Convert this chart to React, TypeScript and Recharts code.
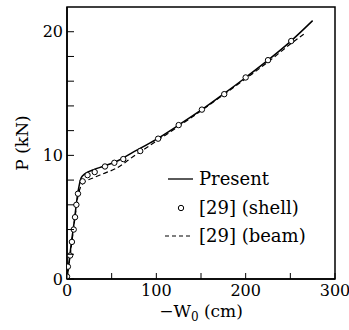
import React from "react";
import {
  ComposedChart,
  Line,
  Scatter,
  XAxis,
  YAxis,
  ReferenceArea,
  Legend,
  Label,
} from "recharts";

// Present (solid)
const presentW = [0, 2, 5, 8, 10, 12, 14, 16, 20, 30, 40, 55, 75, 100, 125, 150, 175, 200, 225, 250, 275];
const presentP = [0, 1.2, 3.0, 4.6, 5.8, 6.9, 7.7, 8.2, 8.5, 8.85, 9.1, 9.5, 10.3, 11.3, 12.45, 13.65, 14.95, 16.3, 17.7, 19.2, 20.9];

// [29] (shell) circles
const shellW = [0, 1, 3.5, 5.5, 7.5, 9, 10.5, 12.3, 17.5, 23, 31, 42.5, 53, 63, 82, 102, 125, 151, 176, 200, 225, 251];
const shellP = [0.2, 1.0, 1.9, 3.0, 4.0, 5.0, 6.0, 6.9, 7.9, 8.4, 8.65, 9.1, 9.4, 9.7, 10.35, 11.35, 12.45, 13.7, 14.95, 16.3, 17.7, 19.25];

// [29] (beam) dashed
const beamW = [0, 3, 6, 9, 12, 15, 18, 22, 30, 40, 55, 75, 100, 125, 150, 175, 200, 225, 250, 265];
const beamP = [0, 1.6, 3.3, 5.0, 6.6, 7.4, 7.75, 7.95, 8.2, 8.5, 8.95, 9.95, 11.15, 12.35, 13.6, 14.9, 16.2, 17.55, 19.0, 19.8];

const xTicks = [0, 50, 100, 150, 200, 250, 300];
const xLabelTicks = [0, 100, 200, 300];
const yTicks = [0, 2, 4, 6, 8, 10, 12, 14, 16, 18, 20];
const yLabelTicks = [0, 10, 20];

const legendItems = ["Present", "[29] (shell)", "[29] (beam)"];

const presentData = presentW.map((x, i) => ({ x, y: presentP[i] }));
const shellData = shellW.map((x, i) => ({ x, y: shellP[i] }));
const beamData = beamW.map((x, i) => ({ x, y: beamP[i] }));

const FONT = "'DejaVu Serif', serif";
const X_MARGIN = 6;
const Y_MARGIN = 4;

const XTick = (props: any) => {
  const { x, y, payload } = props;
  const axisY = y - X_MARGIN;
  const show = xLabelTicks.includes(payload.value);
  return (
    <g>
      <line x1={x} x2={x} y1={axisY} y2={axisY - 6} stroke="#000" strokeWidth={1} />
      {show && (
        <text x={x} y={y} dy="0.71em" textAnchor="middle" fontSize={16} fontFamily={FONT} fill="#000">
          {payload.value}
        </text>
      )}
    </g>
  );
};

const YTick = (props: any) => {
  const { x, y, payload } = props;
  const axisX = x + Y_MARGIN;
  const show = yLabelTicks.includes(payload.value);
  return (
    <g>
      <line x1={axisX} x2={axisX + 7} y1={y} y2={y} stroke="#000" strokeWidth={1} />
      {show && (
        <text x={x} y={y} dy="0.355em" textAnchor="end" fontSize={16} fontFamily={FONT} fill="#000">
          {payload.value}
        </text>
      )}
    </g>
  );
};

const XLabel = (props: any) => {
  const vb = props.viewBox || {};
  const cx = vb.x + vb.width / 2;
  const y = vb.y + 38;
  return (
    <text x={cx} y={y} textAnchor="middle" fontSize={17} fontFamily={FONT} fill="#000">
      <tspan>−W</tspan>
      <tspan fontSize={12} dy={4}>0</tspan>
      <tspan dy={-4}> (cm)</tspan>
    </text>
  );
};

const YLabel = (props: any) => {
  const vb = props.viewBox || {};
  const cy = vb.y + vb.height / 2;
  const x = 22;
  return (
    <text
      x={x}
      y={cy}
      textAnchor="middle"
      dominantBaseline="central"
      fontSize={17}
      fontFamily={FONT}
      fill="#000"
      transform={`rotate(-90, ${x}, ${cy})`}
    >
      P (kN)
    </text>
  );
};

const LegendContent = () => (
  <div style={{ fontFamily: FONT, fontSize: 18, color: "#000", lineHeight: "28.5px" }}>
    {legendItems.map((name, i) => (
      <div key={name} style={{ display: "flex", alignItems: "center", height: 28.5 }}>
        <svg width={35} height={10} style={{ display: "block" }}>
          {i === 0 && <line x1={4} x2={29} y1={5} y2={5} stroke="#000" strokeWidth={1.3} />}
          {i === 1 && <circle cx={17} cy={5} r={2.7} fill="#fff" stroke="#000" strokeWidth={1} />}
          {i === 2 && (
            <line x1={1} x2={29} y1={5} y2={5} stroke="#000" strokeWidth={1.2} strokeDasharray="4 3" />
          )}
        </svg>
        <span style={{ whiteSpace: "pre" }}>{name}</span>
      </div>
    ))}
  </div>
);

export default function App() {
  return (
    <div style={{ position: "absolute", left: 0, top: 0, width: 349, height: 330, background: "#fff" }}>
      <ComposedChart width={349} height={330} margin={{ top: 7, right: 14, left: 0, bottom: 0 }}>
        <XAxis
          type="number"
          dataKey="x"
          domain={[0, 300]}
          ticks={xTicks}
          interval={0}
          allowDataOverflow
          height={51}
          tickSize={0}
          tickMargin={X_MARGIN}
          tickLine={false}
          axisLine={{ stroke: "#000", strokeWidth: 1.5 }}
          tick={<XTick />}
        >
          <Label content={<XLabel />} />
        </XAxis>
        <YAxis
          type="number"
          dataKey="y"
          domain={[0, 22]}
          ticks={yTicks}
          interval={0}
          allowDataOverflow
          width={67}
          tickSize={0}
          tickMargin={Y_MARGIN}
          tickLine={false}
          axisLine={{ stroke: "#000", strokeWidth: 1.5 }}
          tick={<YTick />}
        >
          <Label content={<YLabel />} />
        </YAxis>
        <ReferenceArea x1={0} x2={300} y1={0} y2={22} fill="none" stroke="#000" strokeWidth={1.5} />
        <Line
          data={beamData}
          dataKey="y"
          type="monotone"
          stroke="#000"
          strokeWidth={1.2}
          strokeDasharray="5 3"
          dot={false}
          isAnimationActive={false}
        />
        <Line
          data={presentData}
          dataKey="y"
          type="monotone"
          stroke="#000"
          strokeWidth={1.5}
          dot={false}
          isAnimationActive={false}
        />
        <Scatter
          data={shellData}
          dataKey="y"
          isAnimationActive={false}
          shape={(p: any) => <circle cx={p.cx} cy={p.cy} r={2.7} fill="#fff" stroke="#000" strokeWidth={1} />}
        />
        <Legend
          layout="vertical"
          align="center"
          verticalAlign="middle"
          content={<LegendContent />}
          wrapperStyle={{ left: 164, top: 165, width: "auto", height: "auto" }}
        />
      </ComposedChart>
    </div>
  );
}
